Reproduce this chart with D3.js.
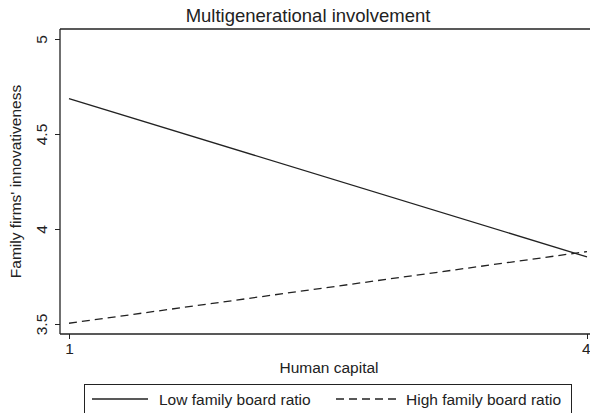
<!DOCTYPE html>
<html><head><meta charset="utf-8">
<script src="https://cdn.jsdelivr.net/npm/d3@7"></script>
<style>body{margin:0;background:#fff;} svg{display:block;} text{font-family:"Liberation Sans",Arial,sans-serif;fill:#222;}</style>
</head><body>
<svg id="c" width="590" height="413"></svg>
<script>
const xValues = [1, 4];
const lowRatio = [4.686, 3.853];
const highRatio = [3.504, 3.881];
const xTicks = [1, 4];
const yTicks = [3.5, 4, 4.5, 5];
const seriesNames = ["Low family board ratio", "High family board ratio"];
const title = "Multigenerational involvement";

(function () {
const svg = d3.select("#c");
const pL = 60, pR = 590, pT = 29, pB = 334;
const x = d3.scaleLinear().domain([1, 4]).range([69, 587]);
const y = d3.scaleLinear().domain([3.5, 5]).range([324, 39]);
const ink = "#222";
const fs = "15.5px";

svg.append("line").attr("x1", pL).attr("x2", pR).attr("y1", pT).attr("y2", pT).attr("stroke", ink).attr("stroke-width", 1.3);

const yAxis = svg.append("g").attr("transform", `translate(${pL},0)`)
  .call(d3.axisLeft(y).tickValues(yTicks).tickSize(5).tickFormat(d3.format("")));
yAxis.select(".domain").attr("d", `M0,${pT}V${pB}`).attr("stroke", ink).attr("stroke-width", 1.3);
yAxis.selectAll(".tick line").attr("stroke", ink);
yAxis.selectAll(".tick text").attr("transform", "rotate(-90)").attr("x", 0).attr("y", -18)
  .attr("dy", "0.35em").attr("text-anchor", "middle").style("font-size", fs).attr("fill", ink);

const xAxis = svg.append("g").attr("transform", `translate(0,${pB})`)
  .call(d3.axisBottom(x).tickValues(xTicks).tickSize(5).tickFormat(d3.format("d")));
xAxis.select(".domain").attr("d", `M${pL},0H${pR}`).attr("stroke", ink).attr("stroke-width", 1.3);
xAxis.selectAll(".tick line").attr("stroke", ink);
xAxis.selectAll(".tick text").attr("y", 9).style("font-size", fs).attr("fill", ink)
  .filter(d => d === xTicks[xTicks.length - 1]).attr("text-anchor", "end").attr("x", 3);

const line = d3.line().x((d, i) => x(xValues[i])).y(d => y(d));
svg.append("path").datum(lowRatio).attr("d", line).attr("fill", "none").attr("stroke", ink).attr("stroke-width", 1.3);
svg.append("path").datum(highRatio).attr("d", line).attr("fill", "none").attr("stroke", ink).attr("stroke-width", 1.3).attr("stroke-dasharray", "8,5");

svg.append("text").attr("x", 308).attr("y", 22).attr("text-anchor", "middle").style("font-size", "18.5px").text(title);
svg.append("text").attr("transform", `translate(21,${(pT + pB) / 2}) rotate(-90)`).attr("text-anchor", "middle").style("font-size", fs).text("Family firms' innovativeness");
svg.append("text").attr("x", 329).attr("y", 373).attr("text-anchor", "middle").style("font-size", fs).text("Human capital");

svg.append("rect").attr("x", 84.5).attr("y", 384.5).attr("width", 487).attr("height", 40).attr("fill", "#fff").attr("stroke", ink).attr("stroke-width", 1);
const legY = 399;
svg.append("line").attr("x1", 92).attr("x2", 148).attr("y1", legY).attr("y2", legY).attr("stroke", ink).attr("stroke-width", 1.3);
svg.append("text").attr("x", 159).attr("y", legY + 5.5).style("font-size", fs).text(seriesNames[0]);
svg.append("line").attr("x1", 336).attr("x2", 398).attr("y1", legY).attr("y2", legY).attr("stroke", ink).attr("stroke-width", 1.3).attr("stroke-dasharray", "8,5");
svg.append("text").attr("x", 406).attr("y", legY + 5.5).style("font-size", fs).text(seriesNames[1]);
})();
</script>
</body></html>
